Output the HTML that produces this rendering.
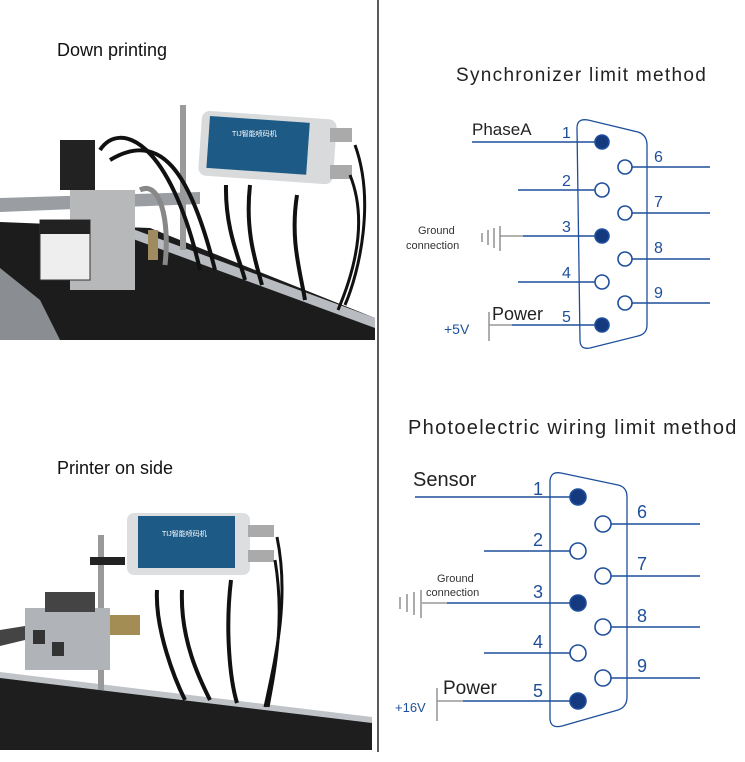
<!DOCTYPE html>
<html><head><meta charset="utf-8"><style>
body{margin:0;background:#fff;width:745px;height:762px;overflow:hidden;font-family:"Liberation Sans",sans-serif}
svg{position:absolute;left:0;top:0}
</style></head><body>
<svg width="745" height="762" viewBox="0 0 745 762">
<line x1="378" y1="0" x2="378" y2="752" stroke="#222" stroke-width="1.5"/>
<text x="57" y="56" font-size="18" fill="#111">Down printing</text>
<text x="57" y="474" font-size="18" fill="#111">Printer on side</text>

<g>
<polygon points="0,222 150,228 375,318 375,340 0,340" fill="#1c1c1c"/>
<polygon points="0,198 200,192 200,204 0,212" fill="#9a9ea2"/>
<polygon points="130,228 375,318 375,328 125,236" fill="#b8bcc0"/>
<polygon points="0,268 40,300 60,340 0,340" fill="#8a8e92"/>
<rect x="180" y="105" width="6" height="145" fill="#9a9a9a"/>
<path d="M100,150 C120,120 170,140 200,270" stroke="#111" stroke-width="4" fill="none"/>
<path d="M110,160 C160,130 190,170 215,270" stroke="#111" stroke-width="4" fill="none"/>
<path d="M140,190 C160,180 170,220 165,265" stroke="#888" stroke-width="5" fill="none"/>
<rect x="148" y="230" width="10" height="30" fill="#a08a60"/>
<rect x="60" y="140" width="35" height="50" fill="#222"/>
<rect x="70" y="190" width="65" height="100" fill="#b6b8ba"/>
<rect x="40" y="220" width="50" height="60" fill="#eee" stroke="#333"/>
<rect x="40" y="220" width="50" height="14" fill="#222"/>
<rect x="200" y="115" width="135" height="65" rx="8" fill="#d8dadc" transform="rotate(4 267 147)"/>
<rect x="208" y="120" width="100" height="52" fill="#1d5a86" transform="rotate(4 267 147)"/>
<text x="232" y="136" font-size="7" fill="#fff" font-family="Liberation Sans,Noto Sans CJK SC,sans-serif">TIJ智能喷码机</text>
<rect x="330" y="128" width="22" height="14" fill="#aaa"/><rect x="330" y="165" width="22" height="14" fill="#aaa"/>
<path d="M226,185 C225,230 240,260 245,280" stroke="#111" stroke-width="4" fill="none"/>
<path d="M250,185 C245,230 255,260 262,285" stroke="#111" stroke-width="4" fill="none"/>
<path d="M297,195 C290,240 300,270 305,300" stroke="#111" stroke-width="4" fill="none"/>
<path d="M355,145 C375,200 360,270 345,305" stroke="#111" stroke-width="3" fill="none"/>
<path d="M350,175 C368,220 355,270 338,310" stroke="#111" stroke-width="3" fill="none"/>
</g>

<g>
<polygon points="0,675 372,720 372,750 0,750" fill="#1e1e1e"/>
<polygon points="0,672 372,717 372,723 0,678" fill="#c0c4c8"/>
<polygon points="0,630 25,626 25,640 0,646" fill="#444"/>
<rect x="98" y="535" width="6" height="155" fill="#999"/>
<rect x="90" y="557" width="35" height="8" fill="#222"/>
<rect x="25" y="608" width="85" height="62" fill="#b0b4b8"/>
<rect x="33" y="630" width="12" height="14" fill="#333"/><rect x="52" y="642" width="12" height="14" fill="#333"/>
<rect x="45" y="592" width="50" height="20" fill="#444"/>
<rect x="110" y="615" width="30" height="20" fill="#a38d55"/>
<rect x="127" y="513" width="123" height="62" rx="7" fill="#dcdee0"/>
<rect x="138" y="516" width="97" height="52" fill="#1d5a86"/>
<text x="162" y="536" font-size="7" fill="#fff" font-family="Liberation Sans,Noto Sans CJK SC,sans-serif">TIJ智能喷码机</text>
<rect x="248" y="525" width="26" height="12" fill="#aaa"/><rect x="248" y="550" width="26" height="12" fill="#aaa"/>
<path d="M157,590 C155,630 175,680 185,700" stroke="#111" stroke-width="4" fill="none"/>
<path d="M182,590 C180,640 200,680 210,700" stroke="#111" stroke-width="4" fill="none"/>
<path d="M231,580 C225,630 230,680 237,703" stroke="#111" stroke-width="4" fill="none"/>
<path d="M277,537 C290,600 275,660 265,707" stroke="#111" stroke-width="3" fill="none"/>
<path d="M275,560 C285,620 275,670 268,707" stroke="#111" stroke-width="3" fill="none"/>
</g>

<text x="456" y="81" font-size="19" fill="#222" letter-spacing="1.3">Synchronizer limit method</text>
<g stroke="#1f4f9a" fill="none" stroke-width="1.6">
<path d="M577,128 Q577,118 588,120 L638,132 Q647,135 647,145 L647,325 Q647,334 638,336 L590,348 Q580,350 580,340 Z" stroke-width="1.3"/>
<line x1="472" y1="142" x2="602" y2="142"/><line x1="518" y1="190" x2="602" y2="190"/>
<line x1="523" y1="236" x2="602" y2="236"/><line x1="500" y1="236" x2="523" y2="236" stroke="#999"/>
<line x1="518" y1="282" x2="602" y2="282"/>
<line x1="512" y1="325" x2="602" y2="325"/><line x1="489" y1="325" x2="512" y2="325" stroke="#999"/>
<line x1="489" y1="312" x2="489" y2="341" stroke="#999"/>
<line x1="625" y1="167" x2="710" y2="167"/><line x1="625" y1="213" x2="710" y2="213"/>
<line x1="625" y1="259" x2="710" y2="259"/><line x1="625" y1="303" x2="710" y2="303"/>
<g stroke="#888" stroke-width="1.4"><line x1="500" y1="226" x2="500" y2="251"/><line x1="494" y1="228" x2="494" y2="248"/><line x1="488" y1="230" x2="488" y2="245"/><line x1="482" y1="233" x2="482" y2="242"/></g>
<circle cx="602" cy="142" r="7" fill="#14397f"/><circle cx="602" cy="190" r="7" fill="#fff"/>
<circle cx="602" cy="236" r="7" fill="#14397f"/><circle cx="602" cy="282" r="7" fill="#fff"/>
<circle cx="602" cy="325" r="7" fill="#14397f"/>
<circle cx="625" cy="167" r="7" fill="#fff"/><circle cx="625" cy="213" r="7" fill="#fff"/>
<circle cx="625" cy="259" r="7" fill="#fff"/><circle cx="625" cy="303" r="7" fill="#fff"/>
</g>
<g font-size="16" fill="#1f4f9a">
<text x="562" y="138">1</text><text x="562" y="186">2</text><text x="562" y="232">3</text><text x="562" y="278">4</text><text x="562" y="322">5</text>
<text x="654" y="162">6</text><text x="654" y="207">7</text><text x="654" y="253">8</text><text x="654" y="298">9</text>
</g>
<text x="472" y="135" font-size="17" fill="#222">PhaseA</text>
<text x="418" y="234" font-size="11" fill="#333">Ground</text>
<text x="406" y="249" font-size="11" fill="#333">connection</text>
<text x="492" y="320" font-size="18" fill="#222">Power</text>
<text x="444" y="334" font-size="14" fill="#1f4f9a">+5V</text>

<text x="408" y="434" font-size="20" fill="#222" letter-spacing="1.3">Photoelectric wiring limit method</text>
<g stroke="#1f4f9a" fill="none" stroke-width="1.6">
<path d="M550,482 Q550,471 561,473 L618,485 Q627,487 627,497 L627,697 Q627,707 618,710 L562,726 Q550,729 550,718 Z" stroke-width="1.3"/>
<line x1="415" y1="497" x2="578" y2="497"/><line x1="484" y1="551" x2="578" y2="551"/>
<line x1="447" y1="603" x2="578" y2="603"/><line x1="422" y1="603" x2="447" y2="603" stroke="#999"/>
<line x1="484" y1="653" x2="578" y2="653"/>
<line x1="463" y1="701" x2="578" y2="701"/><line x1="437" y1="701" x2="463" y2="701" stroke="#999"/>
<line x1="437" y1="688" x2="437" y2="721" stroke="#999"/>
<line x1="603" y1="524" x2="700" y2="524"/><line x1="603" y1="576" x2="700" y2="576"/>
<line x1="603" y1="627" x2="700" y2="627"/><line x1="603" y1="678" x2="700" y2="678"/>
<g stroke="#888" stroke-width="1.4"><line x1="421" y1="590" x2="421" y2="618"/><line x1="414" y1="592" x2="414" y2="615"/><line x1="407" y1="594" x2="407" y2="612"/><line x1="400" y1="597" x2="400" y2="609"/></g>
<circle cx="578" cy="497" r="8" fill="#14397f"/><circle cx="578" cy="551" r="8" fill="#fff"/>
<circle cx="578" cy="603" r="8" fill="#14397f"/><circle cx="578" cy="653" r="8" fill="#fff"/>
<circle cx="578" cy="701" r="8" fill="#14397f"/>
<circle cx="603" cy="524" r="8" fill="#fff"/><circle cx="603" cy="576" r="8" fill="#fff"/>
<circle cx="603" cy="627" r="8" fill="#fff"/><circle cx="603" cy="678" r="8" fill="#fff"/>
</g>
<g font-size="18" fill="#1f4f9a">
<text x="533" y="495">1</text><text x="533" y="546">2</text><text x="533" y="598">3</text><text x="533" y="648">4</text><text x="533" y="697">5</text>
<text x="637" y="518">6</text><text x="637" y="570">7</text><text x="637" y="622">8</text><text x="637" y="672">9</text>
</g>
<text x="413" y="486" font-size="20" fill="#222">Sensor</text>
<text x="437" y="582" font-size="11" fill="#333">Ground</text>
<text x="426" y="596" font-size="11" fill="#333">connection</text>
<text x="443" y="694" font-size="19" fill="#222">Power</text>
<text x="395" y="712" font-size="13" fill="#1f4f9a">+16V</text>
</svg>
</body></html>
